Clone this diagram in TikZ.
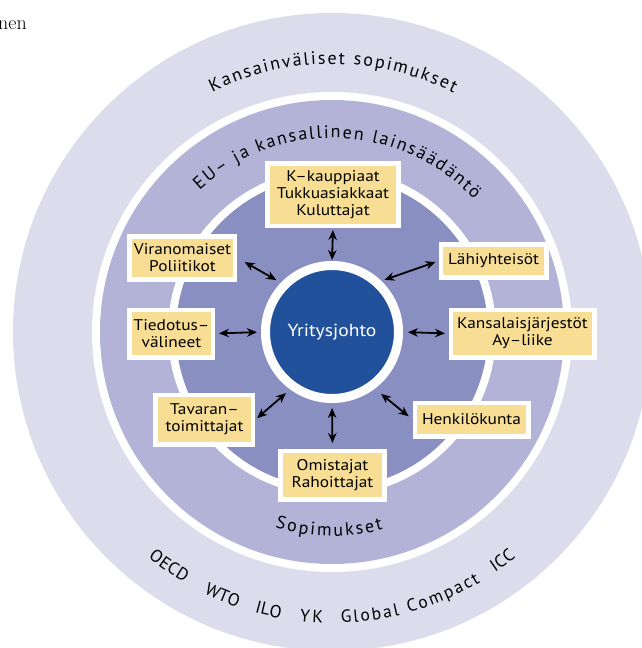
\documentclass[tikz,border=0pt]{standalone}
\usepackage{fontspec}
\newfontfamily\labelfont[FakeStretch=1.12]{PT Sans}
\newfontfamily\arcfont{PT Sans}
\usetikzlibrary{arrows.meta,decorations.text}
\definecolor{outerband}{RGB}{221,220,236}
\definecolor{midband}{RGB}{178,179,215}
\definecolor{innerband}{RGB}{138,143,194}
\definecolor{coreblue}{RGB}{34,81,155}
\definecolor{boxyellow}{RGB}{247,222,148}
\begin{document}
\begin{tikzpicture}[x=1pt,y=1pt,
  stakebox/.style={draw=white, line width=4.5pt, fill=boxyellow, inner sep=0pt,
    align=center, text=black, font=\labelfont\fontsize{15.5}{17}\selectfont},
  dbl/.style={{Stealth[length=10pt,width=8.5pt]}-{Stealth[length=10pt,width=8.5pt]},
    line width=1.8pt, black},
  arclabel/.style={decorate, decoration={text along path, text align=fit to path,
    text={|\arcfont\fontsize{18}{21}\selectfont|#1}}},
  smallarclabel/.style={decorate, decoration={text along path, text align=fit to path,
    text={|\arcfont\fontsize{17.5}{20}\selectfont|#1}}}
]
\useasboundingbox (-332,-316) rectangle (310,332);
\clip (-332,-316) rectangle (310,332);
\fill[white] (-332,-316) rectangle (310,332);

% bands
\fill[outerband] (0,0) circle[radius=319];
\fill[white] (0,0) circle[radius=240];
\fill[midband] (0,0) circle[radius=232];
\fill[white] (0,0) circle[radius=164];
\fill[innerband] (0,0) circle[radius=156];

% stray text at top left
\node[anchor=base east, inner sep=0pt, font=\fontsize{20}{22}\selectfont] (nen) at (-305,302) {nen};

% core
\node[circle, fill=coreblue, draw=white, line width=9pt, minimum size=133pt, inner sep=0pt,
  text=white, font=\labelfont\fontsize{17.5}{20}\selectfont] (core) at (0,0) {Yritysjohto};

% stakeholder boxes
\node[stakebox, minimum width=130.5pt, minimum height=62.5pt] (kk) at (1,137) {K–kauppiaat\\Tukkuasiakkaat\\Kuluttajat};
\node[stakebox, minimum width=105.5pt, minimum height=42.5pt] (vir) at (-149.5,74) {Viranomaiset\\Poliitikot};
\node[stakebox, minimum width=105.5pt, minimum height=32.5pt] (lah) at (161.5,71) {Lähiyhteisöt};
\node[stakebox, minimum width=83.5pt, minimum height=47.5pt] (tied) at (-160.5,-1.5) {Tiedotus–\\välineet};
\node[stakebox, minimum width=143.5pt, minimum height=47.5pt] (kans) at (190.5,-1.5) {Kansalaisjärjestöt\\Ay–liike};
\node[stakebox, minimum width=97.5pt, minimum height=49.5pt] (tav) at (-127.5,-87.5) {Tavaran–\\toimittajat};
\node[stakebox, minimum width=113.5pt, minimum height=33.5pt] (henk) at (139.5,-87.5) {Henkilökunta};
\node[stakebox, minimum width=103.5pt, minimum height=48.5pt] (omis) at (0.5,-143) {Omistajat\\Rahoittajat};

% arrows
\draw[dbl, shorten <=1pt, shorten >=1.5pt] (core.90) -- (kk.south);
\draw[dbl, shorten <=5.4pt, shorten >=8.3pt] (core.136) -- (vir.east);
\draw[dbl, shorten <=3.3pt, shorten >=3.2pt] (core.46.6) -- (lah.west);
\draw[dbl, shorten <=4pt, shorten >=3.5pt] (core.180) -- (tied.east);
\draw[dbl, shorten <=5pt, shorten >=3.5pt] (core.0) -- (kans.west);
\draw[dbl, shorten <=5.7pt, shorten >=2.1pt] (core.234) -- (tav.east);
\draw[dbl, shorten <=8.2pt, shorten >=5pt] (core.307.3) -- (henk.west);
\draw[dbl, shorten <=5pt, shorten >=5.5pt] (core.270) -- (omis.north);

% curved labels
\path[arclabel={Kansainväliset sopimukset}] (116.5:268) arc[start angle=116.5, end angle=63, radius=268];
\path[arclabel={EU– ja kansallinen lainsäädäntö}] (133:194) arc[start angle=133, end angle=43, radius=194];
\path[arclabel={Sopimukset}] (253.8:204) arc[start angle=253.8, end angle=284.5, radius=204];
\path[smallarclabel={OECD}] (230.8:291) arc[start angle=230.8, end angle=239.5, radius=291];
\path[smallarclabel={WTO}] (243.9:291) arc[start angle=243.9, end angle=250.9, radius=291];
\path[smallarclabel={ILO}] (254.6:291) arc[start angle=254.6, end angle=259.8, radius=291];
\path[smallarclabel={YK}] (263.6:291) arc[start angle=263.6, end angle=268.2, radius=291];
\path[smallarclabel={Global Compact}] (271.8:291) arc[start angle=271.8, end angle=300.7, radius=291];
\path[smallarclabel={ICC}] (304.1:291) arc[start angle=304.1, end angle=309.2, radius=291];
\end{tikzpicture}
\end{document}
